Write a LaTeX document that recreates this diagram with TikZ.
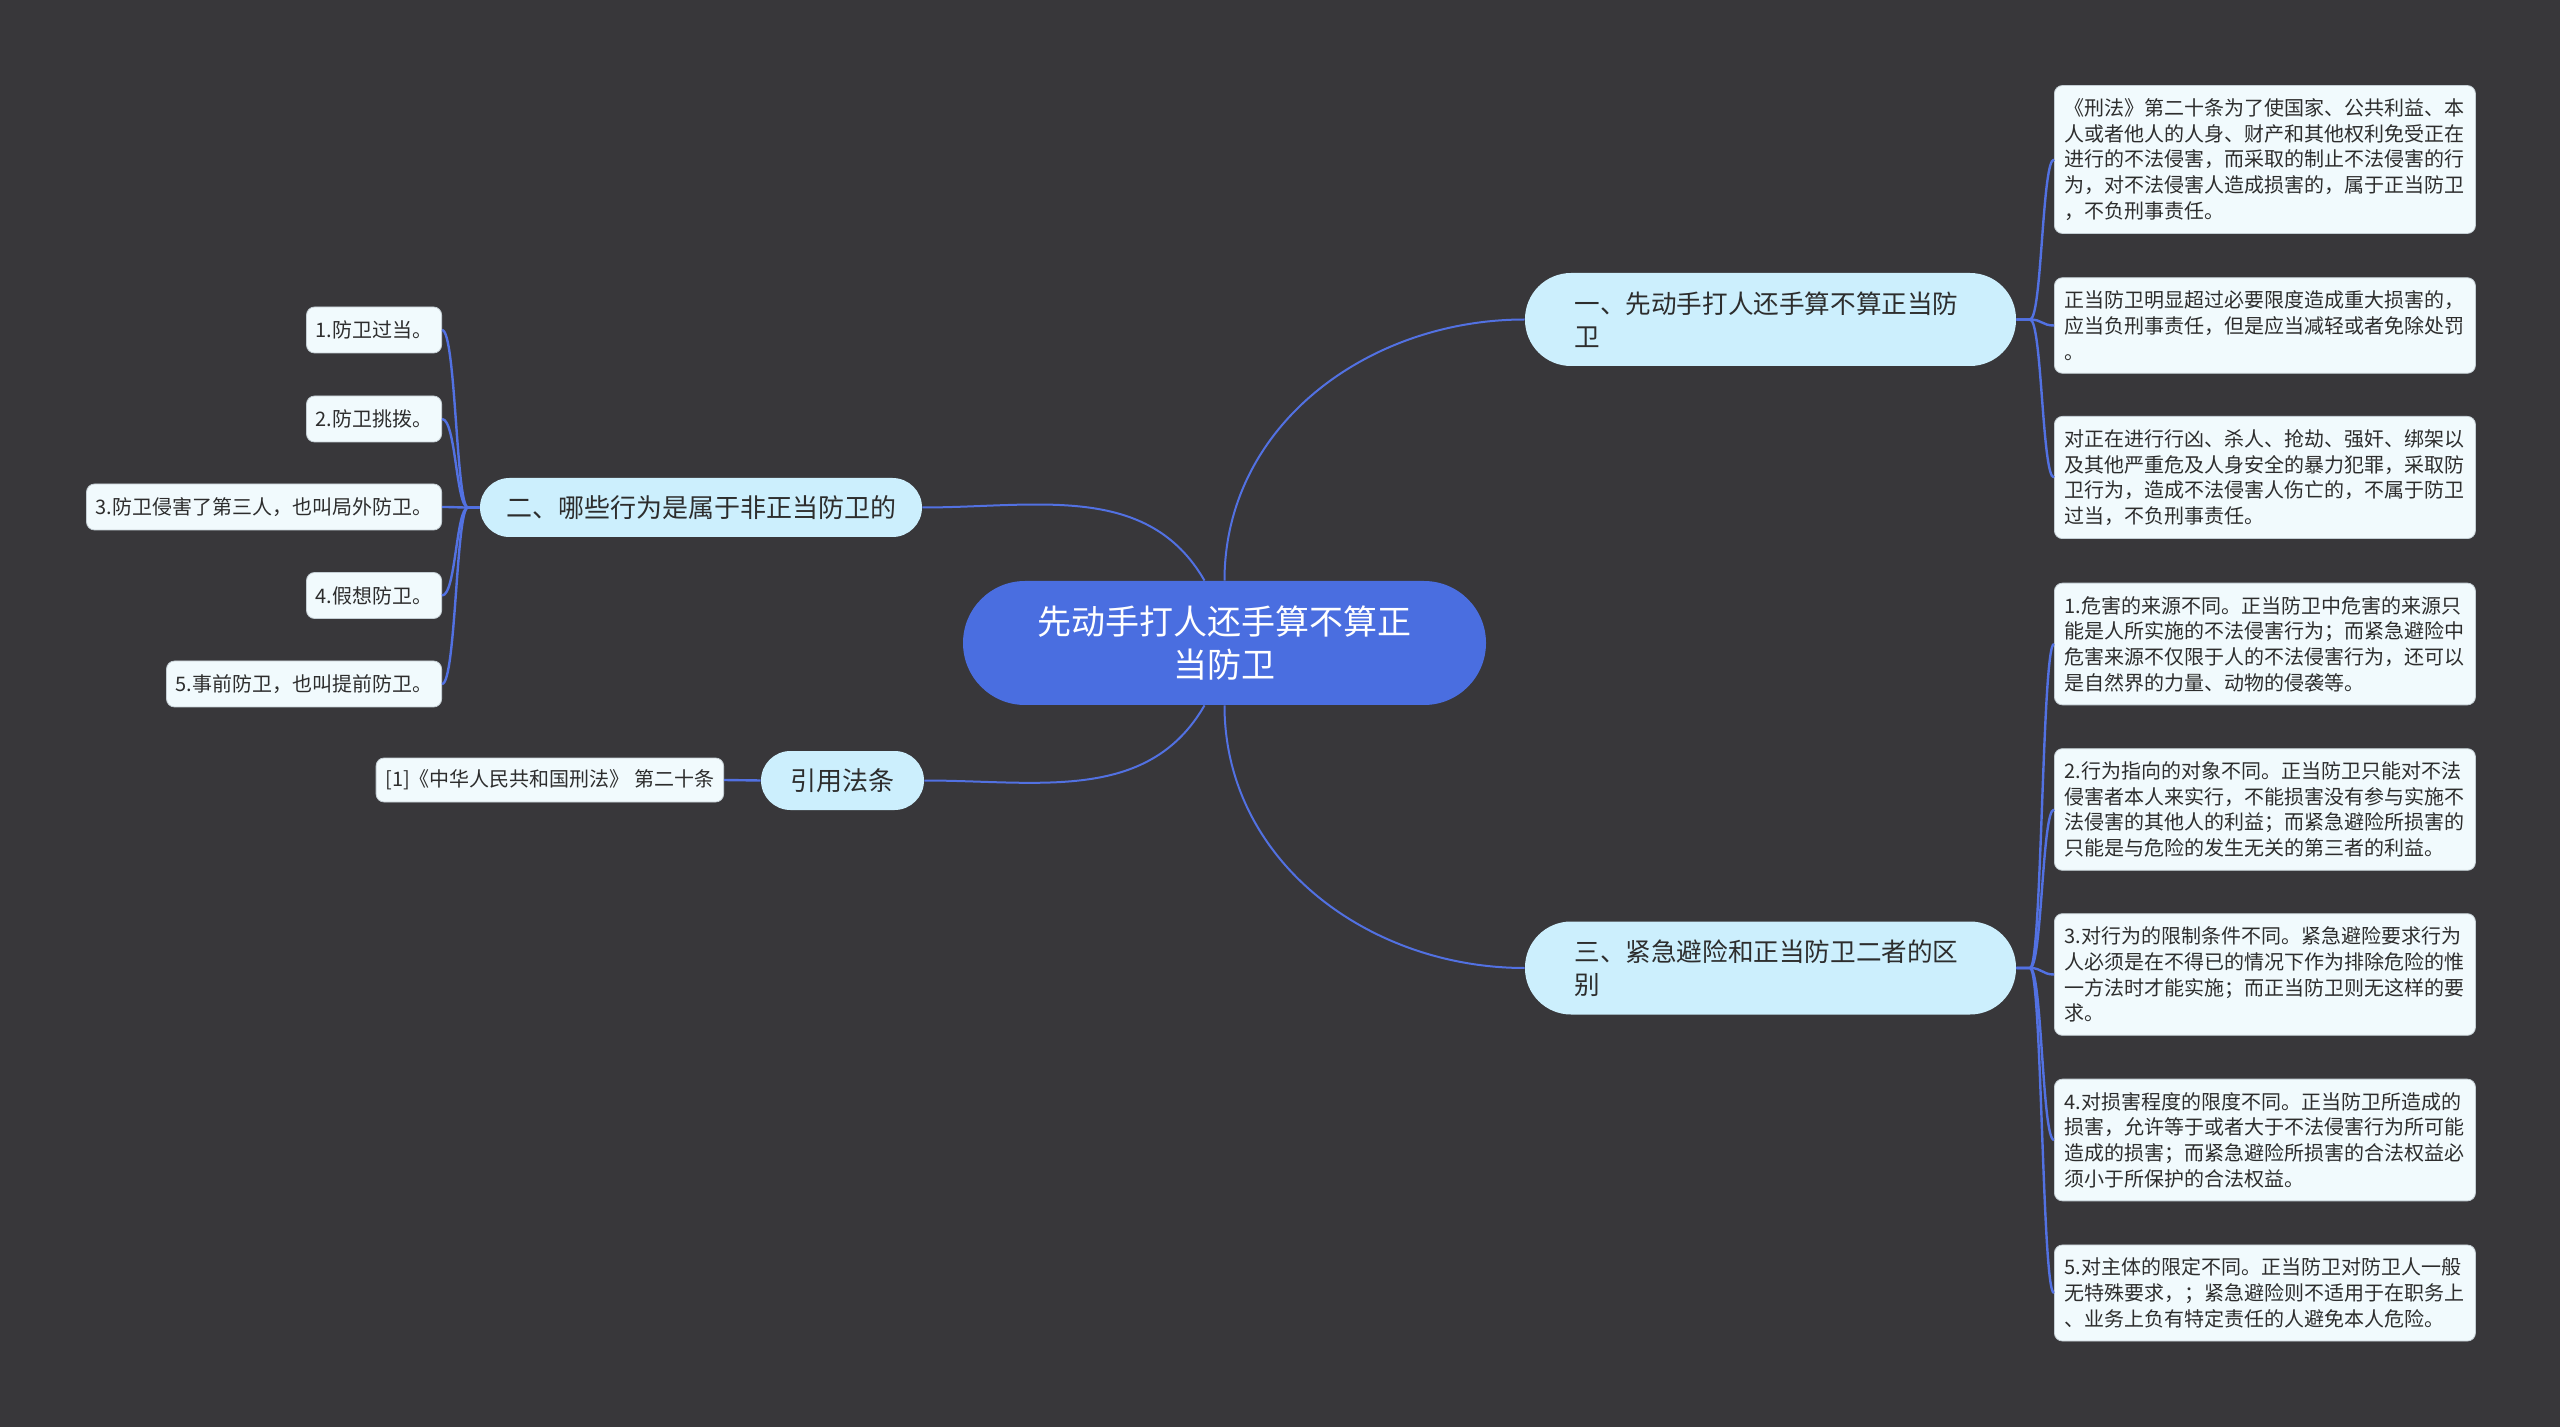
\documentclass[tikz,border=0pt]{standalone}
\usepackage{fontspec}
\setmainfont{Noto Sans CJK SC}
\definecolor{bgdark}{RGB}{56,55,58}
\definecolor{rootblue}{RGB}{74,110,224}
\definecolor{linkblue}{RGB}{82,113,226}
\definecolor{topicfill}{RGB}{204,239,253}
\definecolor{leaffill}{RGB}{241,250,253}
\definecolor{leafline}{RGB}{196,206,212}
\definecolor{inktext}{RGB}{45,45,45}

\begin{document}
\begin{tikzpicture}[x=0.5pt, y=-0.5pt,
	root/.style={fill=rootblue, text=white, rounded corners=31pt, minimum width=261.5pt, minimum height=62pt, align=center, font={\fontsize{17}{21.5}\selectfont}},
	topic/.style={fill=topicfill, text=inktext, minimum height=29.5pt, rounded corners=14.75pt, font={\fontsize{13}{16.5}\selectfont}},
	bigtopic/.style={topic, minimum height=46.5pt, rounded corners=23pt, text width=196pt, inner xsep=24.75pt, align=left, font={\fontsize{12.8}{16.5}\selectfont}},
	leaf/.style={fill=leaffill, draw=leafline, line width=0.4pt, text=inktext, rounded corners=4pt, minimum height=23pt, inner xsep=4.6pt, font={\fontsize{10}{12.85}\selectfont}},
	note/.style={leaf, text width=200.5pt, inner xsep=5pt, inner ysep=6.5pt, align=left},
	link/.style={linkblue, line width=1pt},
	twig/.style={linkblue, line width=1.2pt}]
	\fill[bgdark] (0,0) rectangle (2560,1427);

	\node[root] (c) at (1224.5,643) {先动手打人还手算不算正\\当防卫};
	\node[bigtopic] (b1) at (1770.5,319.5) {一、先动手打人还手算不算正当防\\卫};
	\node[bigtopic] (b3) at (1770.5,968) {三、紧急避险和正当防卫二者的区\\别};
	\node[topic, minimum width=221pt] (b2) at (701,507.5) {二、哪些行为是属于非正当防卫的};
	\node[topic, minimum width=81.5pt] (b4) at (842.5,780.5) {引用法条};

	\node[leaf, anchor=east] (l1) at (442,330) {1.防卫过当。};
	\node[leaf, anchor=east] (l2) at (442,419) {2.防卫挑拨。};
	\node[leaf, anchor=east] (l3) at (442,507) {3.防卫侵害了第三人，也叫局外防卫。};
	\node[leaf, anchor=east] (l4) at (442,595.5) {4.假想防卫。};
	\node[leaf, anchor=east] (l5) at (442,684) {5.事前防卫，也叫提前防卫。};
	\node[leaf, anchor=east, minimum height=22pt] (lr) at (724,780) {[1]《中华人民共和国刑法》 第二十条};

	\node[note, anchor=west] (r1) at (2054,159.5) {《刑法》第二十条为了使国家、公共利益、本\\人或者他人的人身、财产和其他权利免受正在\\进行的不法侵害，而采取的制止不法侵害的行\\为，对不法侵害人造成损害的，属于正当防卫\\，不负刑事责任。};
	\node[note, anchor=west] (r2) at (2054,325.5) {正当防卫明显超过必要限度造成重大损害的，\\应当负刑事责任，但是应当减轻或者免除处罚\\。};
	\node[note, anchor=west] (r3) at (2054,477.5) {对正在进行行凶、杀人、抢劫、强奸、绑架以\\及其他严重危及人身安全的暴力犯罪，采取防\\卫行为，造成不法侵害人伤亡的，不属于防卫\\过当，不负刑事责任。};
	\node[note, anchor=west] (r4) at (2054,644) {1.危害的来源不同。正当防卫中危害的来源只\\能是人所实施的不法侵害行为；而紧急避险中\\危害来源不仅限于人的不法侵害行为，还可以\\是自然界的力量、动物的侵袭等。};
	\node[note, anchor=west] (r5) at (2054,809.5) {2.行为指向的对象不同。正当防卫只能对不法\\侵害者本人来实行，不能损害没有参与实施不\\法侵害的其他人的利益；而紧急避险所损害的\\只能是与危险的发生无关的第三者的利益。};
	\node[note, anchor=west] (r6) at (2054,974.5) {3.对行为的限制条件不同。紧急避险要求行为\\人必须是在不得已的情况下作为排除危险的惟\\一方法时才能实施；而正当防卫则无这样的要\\求。};
	\node[note, anchor=west] (r7) at (2054,1140) {4.对损害程度的限度不同。正当防卫所造成的\\损害，允许等于或者大于不法侵害行为所可能\\造成的损害；而紧急避险所损害的合法权益必\\须小于所保护的合法权益。};
	\node[note, anchor=west] (r8) at (2054,1293) {5.对主体的限定不同。正当防卫对防卫人一般\\无特殊要求，；紧急避险则不适用于在职务上\\、业务上负有特定责任的人避免本人危险。};

	\draw[link] (c.north) to[out=90, in=180] (b1.west);
	\draw[link] (c.south) to[out=-90, in=180] (b3.west);
	\draw[link] (b2.east) to[out=0, in=120] ([xshift=-10pt]c.north);
	\draw[link] (b4.east) to[out=0, in=240] ([xshift=-10pt]c.south);

	\coordinate (f1) at (2030,319.5);
	\coordinate (f3) at (2030,968);
	\coordinate (f2) at (468,507.5);
	\draw[twig] (b1.east) -- (f1) .. controls +(12,0) and +(-12,0) .. (r1.west);
	\draw[twig] (b1.east) -- (f1) .. controls +(12,0) and +(-12,0) .. (r2.west);
	\draw[twig] (b1.east) -- (f1) .. controls +(12,0) and +(-12,0) .. (r3.west);
	\draw[twig] (b3.east) -- (f3) .. controls +(12,0) and +(-12,0) .. (r4.west);
	\draw[twig] (b3.east) -- (f3) .. controls +(12,0) and +(-12,0) .. (r5.west);
	\draw[twig] (b3.east) -- (f3) .. controls +(12,0) and +(-12,0) .. (r6.west);
	\draw[twig] (b3.east) -- (f3) .. controls +(12,0) and +(-12,0) .. (r7.west);
	\draw[twig] (b3.east) -- (f3) .. controls +(12,0) and +(-12,0) .. (r8.west);
	\draw[twig] (b2.west) -- (f2) .. controls +(-12,0) and +(14,0) .. (l1.east);
	\draw[twig] (b2.west) -- (f2) .. controls +(-12,0) and +(14,0) .. (l2.east);
	\draw[twig] (b2.west) -- (f2) .. controls +(-12,0) and +(14,0) .. (l3.east);
	\draw[twig] (b2.west) -- (f2) .. controls +(-12,0) and +(14,0) .. (l4.east);
	\draw[twig] (b2.west) -- (f2) .. controls +(-12,0) and +(14,0) .. (l5.east);
	\draw[twig] (b4.west) -- (lr.east);
\end{tikzpicture}
\end{document}
